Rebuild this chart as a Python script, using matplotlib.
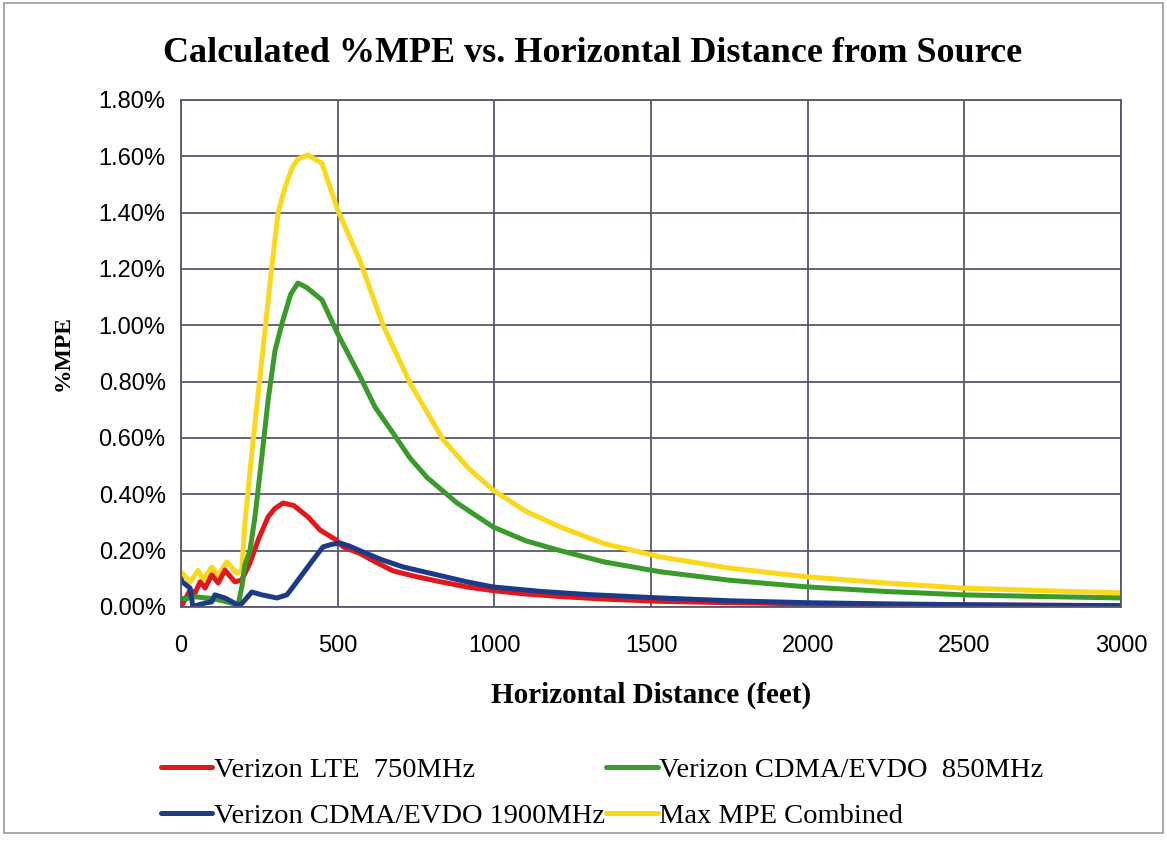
import numpy as np
import matplotlib
matplotlib.use("Agg")
import matplotlib.pyplot as plt
from matplotlib.ticker import FuncFormatter, MultipleLocator
from matplotlib.patches import Rectangle

# Data (distance in feet, %MPE in percent)
lte_x = [0, 29, 45, 61, 77, 98, 119, 140, 172, 194, 220, 247, 278, 300, 326, 360, 405,
         444, 492, 518, 571, 620, 677, 750, 817, 913, 996, 1100, 1210, 1350, 1529, 1750,
         2000, 2250, 2500, 2750, 3000]
lte_y = [0.0, 0.06, 0.05, 0.089, 0.067, 0.114, 0.085, 0.131, 0.089, 0.096, 0.156, 0.24,
         0.32, 0.35, 0.369, 0.36, 0.32, 0.273, 0.24, 0.213, 0.19, 0.16, 0.128, 0.108,
         0.092, 0.071, 0.058, 0.046, 0.037, 0.028, 0.02, 0.015, 0.011, 0.009, 0.007,
         0.006, 0.005]

cdma850_x = [0, 20, 45, 98, 140, 182, 194, 204, 220, 236, 258, 278, 300, 323, 350,
             373, 400, 450, 500, 566, 619, 677, 730, 785, 880, 996, 1100, 1210, 1350,
             1529, 1750, 2000, 2250, 2496, 2750, 3000]
cdma850_y = [0.03, 0.03, 0.036, 0.03, 0.02, 0.007, 0.07, 0.15, 0.2, 0.32, 0.533, 0.735,
             0.91, 1.01, 1.11, 1.15, 1.135, 1.09, 0.97, 0.83, 0.71, 0.617, 0.53, 0.46,
             0.37, 0.284, 0.235, 0.2, 0.16, 0.125, 0.095, 0.071, 0.055, 0.043, 0.037,
             0.032]

cdma1900_x = [0, 3, 29, 38, 48, 77, 98, 108, 140, 182, 194, 226, 258, 289, 306, 338,
              360, 390, 420, 453, 480, 507, 540, 581, 640, 709, 817, 913, 996, 1150,
              1300, 1529, 1750, 2000, 2250, 2500, 2750, 3000]
cdma1900_y = [0.1, 0.09, 0.067, 0.0, 0.005, 0.014, 0.018, 0.043, 0.032, 0.007, 0.012,
              0.053, 0.043, 0.036, 0.032, 0.043, 0.075, 0.12, 0.165, 0.213, 0.222,
              0.227, 0.215, 0.195, 0.168, 0.142, 0.114, 0.089, 0.071, 0.055, 0.044,
              0.032, 0.022, 0.015, 0.011, 0.008, 0.006, 0.004]

combined_x = [0, 29, 55, 71, 98, 119, 146, 178, 194, 204, 227, 258, 290, 310, 332, 355,
              373, 405, 450, 500, 571, 619, 645, 731, 837, 920, 996, 1100, 1210, 1350,
              1529, 1750, 1998, 2250, 2496, 2750, 3000]
combined_y = [0.124, 0.089, 0.13, 0.096, 0.142, 0.113, 0.16, 0.12, 0.13, 0.3, 0.557,
              0.877, 1.21, 1.40, 1.49, 1.56, 1.59, 1.605, 1.575, 1.41, 1.23, 1.08, 1.0,
              0.795, 0.593, 0.49, 0.415, 0.34, 0.284, 0.225, 0.178, 0.138, 0.107, 0.085,
              0.067, 0.058, 0.05]

labels = ["Verizon LTE  750MHz", "Verizon CDMA/EVDO  850MHz",
          "Verizon CDMA/EVDO 1900MHz", "Max MPE Combined"]

fig = plt.figure(figsize=(11.67, 8.43), dpi=100)
ax = fig.add_axes([0.1551, 0.28, 0.8055, 0.6014])

lw = 3.6
l1, = ax.plot(lte_x, lte_y, color="#e3161b", lw=lw, solid_capstyle="round",
              solid_joinstyle="round")
l2, = ax.plot(cdma850_x, cdma850_y, color="#3a9a2a", lw=lw, solid_capstyle="round",
              solid_joinstyle="round")
l3, = ax.plot(cdma1900_x, cdma1900_y, color="#1c3a87", lw=lw, solid_capstyle="round",
              solid_joinstyle="round")
l4, = ax.plot(combined_x, combined_y, color="#fbd81c", lw=lw, solid_capstyle="round",
              solid_joinstyle="round")
l4.set_zorder(1.5)

ax.set_xlim(0, 3000)
ax.set_ylim(0, 1.8)
ax.xaxis.set_major_locator(MultipleLocator(500))
ax.yaxis.set_major_locator(MultipleLocator(0.2))
ax.yaxis.set_major_formatter(FuncFormatter(lambda v, p: f"{v:.2f}%"))
ax.grid(True, color="#5a5670", lw=1.3)
ax.set_axisbelow(True)
for s in ax.spines.values():
    s.set_color("#5a5670")
    s.set_linewidth(1.3)
ax.tick_params(length=0, labelsize=17)
ax.tick_params(axis="y", pad=11)
ax.tick_params(axis="x", pad=20)
for t in ax.get_xticklabels() + ax.get_yticklabels():
    t.set_fontfamily("Liberation Sans")

fig.text(0.508, 0.937, "Calculated %MPE vs. Horizontal Distance from Source",
         ha="center", va="center", fontsize=26, fontweight="bold",
         family="Liberation Serif")
ax.set_xlabel("Horizontal Distance (feet)", fontsize=21, fontweight="bold",
              family="Liberation Serif", labelpad=18)
ax.set_ylabel("%MPE", fontsize=17, fontweight="bold", family="Liberation Serif",
              labelpad=18)

# legend fills row by row in the reference: red, green / blue, yellow
fig.legend([l1, l3, l2, l4], [labels[0], labels[2], labels[1], labels[3]],
           loc="center", ncol=2, bbox_to_anchor=(0.516, 0.059), frameon=False,
           handlelength=1.8, handletextpad=0.05, columnspacing=0.05,
           labelspacing=0.7, prop={"family": "Liberation Serif", "size": 20.5})

fig.patches.append(Rectangle((0.003, 0.012), 0.994, 0.985, transform=fig.transFigure,
                             fill=False, edgecolor="#9a9a9a", lw=1.2))

fig.savefig("out.png", dpi=100)
